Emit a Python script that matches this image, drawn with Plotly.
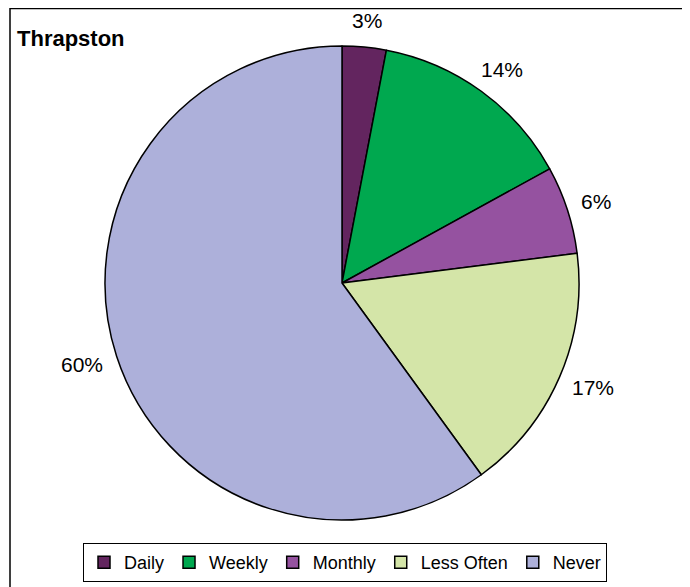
import math
import plotly.graph_objects as go

categories = ["Daily", "Weekly", "Monthly", "Less Often", "Never"]
values = [3, 14, 6, 17, 60]
colors = ["#63255F", "#00A84F", "#9552A0", "#D4E5A8", "#ADB0DA"]

W, H = 690, 587
OFF = 8  # page body margin
cx, cy, r = 342 - OFF, 283 - OFF, 237
gap = 15
label_size = 21

fig = go.Figure(go.Pie(
    labels=categories,
    values=values,
    sort=False,
    direction="clockwise",
    rotation=0,
    marker=dict(colors=colors, line=dict(color="black", width=1.5)),
    textinfo="none",
    domain=dict(x=[(cx - r) / W, (cx + r) / W], y=[1 - (cy + r) / H, 1 - (cy - r) / H]),
    hoverinfo="label+percent",
))

# percentage labels placed outside each slice, along its mid-angle,
# with the label box pushed clear of the rim
total = sum(values)
annotations = []
cum = 0
for v in values:
    mid = (cum + v / 2) / total
    cum += v
    th = 2 * math.pi * mid
    ux, uy = math.sin(th), -math.cos(th)
    txt = f"{round(100 * v / total)}%"
    half_w = (0.556 * (len(txt) - 1) + 0.889) * label_size / 2
    half_h = 12
    px = cx + ux * (r + gap + half_w)
    py = cy + uy * (r + gap + half_h)
    annotations.append(dict(
        text=txt, xref="paper", yref="paper",
        x=px / W, y=1 - py / H, xanchor="center", yanchor="middle",
        showarrow=False, font=dict(size=label_size, family="Liberation Sans, Arial", color="black")))

annotations.append(dict(text="<b>Thrapston</b>", xref="paper", yref="paper",
                        x=6.5 / W, y=1 - 16 / H, xanchor="left", yanchor="top",
                        showarrow=False, font=dict(size=22)))

fig.update_layout(
    width=W, height=H,
    margin=dict(l=0, r=0, t=0, b=0),
    paper_bgcolor="white",
    plot_bgcolor="white",
    font=dict(family="Liberation Sans, Arial", size=18, color="black"),
    showlegend=True,
    legend=dict(
        orientation="h",
        x=(345 - OFF) / W, xanchor="center",
        y=1 - (543 - OFF) / H, yanchor="top",
        bordercolor="black", borderwidth=1,
        font=dict(size=18),
        itemwidth=30,
        tracegroupgap=0,
    ),
    shapes=[dict(type="rect", xref="paper", yref="paper",
                 x0=2 / W, x1=1.05, y0=-0.05, y1=1 - 0.5 / H,
                 line=dict(color="black", width=1.5))],
    annotations=annotations,
)

fig.write_html("out.html")
